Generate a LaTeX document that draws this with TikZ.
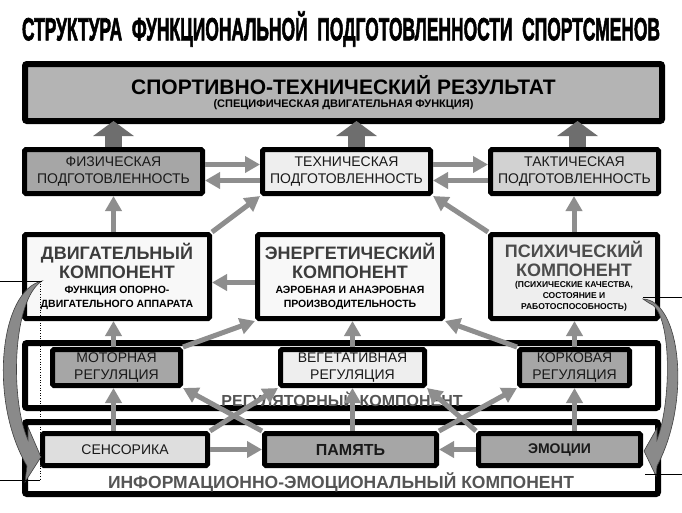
\documentclass[tikz,border=0pt]{standalone}
\usepackage{fontspec}
\setmainfont{Liberation Sans}
\newfontfamily\heavyfont[FakeBold=2.5]{Liberation Sans Bold}
\usepackage{graphicx}
\usetikzlibrary{arrows.meta,positioning}

\definecolor{resgray}{HTML}{B4B4B4}
\definecolor{darkfill}{HTML}{A6A6A6}
\definecolor{midfill}{HTML}{D2D2D2}
\definecolor{lightfill}{HTML}{EEEEEE}
\definecolor{palefill}{HTML}{F8F8F8}
\definecolor{sensfill}{HTML}{DEDEDE}
\definecolor{arrgray}{HTML}{8E8E8E}
\definecolor{bigarrgray}{HTML}{6E6E6E}
\definecolor{swooshgray}{HTML}{8A8A8A}
\definecolor{labelgray}{HTML}{555555}
\definecolor{compgray}{HTML}{3C3C3C}

\newcommand{\comptitle}{\fontsize{18}{19}\selectfont\bfseries\color{compgray}}
\newcommand{\compnote}{\fontsize{10.5}{14.5}\selectfont\bfseries\color{black}}
\newcommand{\psihnote}{\fontsize{8.5}{11}\selectfont\bfseries\color{black}}

\begin{document}
\begin{tikzpicture}[x=1pt,y=-1pt,
  box/.style={rectangle, draw=black, line width=5pt, rounded corners=1.5pt,
              fill=#1, align=center, inner sep=0pt, text=black!90,
              font=\fontsize{14}{17}\selectfont},
  box/.default=white,
  comp/.style={box=#1, minimum height=84pt, text width=180pt, align=flush center},
  panel/.style={rectangle, draw=black, line width=6pt, rounded corners=2pt,
                fill=#1, inner sep=0pt},
  panel/.default=white,
  lbl/.style={font=\fontsize{16}{18}\selectfont\bfseries, text=labelgray, inner sep=0pt},
  arr/.style={-{Triangle[length=15pt,width=16pt]}, line width=5pt, draw=arrgray},
  bigarr/.style={-{Triangle[length=15pt,width=40pt]}, line width=17pt,
                 draw=bigarrgray, shorten >=-3pt},
  swoosh/.style={fill=swooshgray, draw=black!75, line width=0.6pt},
  handle/.style={draw=black, line width=0.6pt}
]
  \useasboundingbox[fill=white] (0,0) rectangle (682,512);

  \node (title) at (341,29) {\resizebox{638pt}{29pt}{\heavyfont СТРУКТУРА\ \ ФУНКЦИОНАЛЬНОЙ\ \ ПОДГОТОВЛЕННОСТИ\ \ СПОРТСМЕНОВ}};

  % result
  \node[panel=resgray, minimum width=637pt, minimum height=57pt, align=center] (result) at (343.5,92.5)
    {\fontsize{21}{22}\selectfont\bfseries СПОРТИВНО-ТЕХНИЧЕСКИЙ РЕЗУЛЬТАТ\\[1pt]
     \fontsize{11}{12}\selectfont\bfseries (СПЕЦИФИЧЕСКАЯ ДВИГАТЕЛЬНАЯ ФУНКЦИЯ)};

  % preparedness
  \node[box=lightfill, minimum width=168pt, minimum height=44pt] (tex) at (346.5,171.5) {ТЕХНИЧЕСКАЯ\\ПОДГОТОВЛЕННОСТЬ};
  \node[box=darkfill, minimum width=178pt, minimum height=44pt, left=55pt of tex] (fiz) {ФИЗИЧЕСКАЯ\\ПОДГОТОВЛЕННОСТЬ};
  \node[box=midfill, minimum width=168pt, minimum height=44pt, right=55pt of tex] (takt) {ТАКТИЧЕСКАЯ\\ПОДГОТОВЛЕННОСТЬ};

  % components
  \node[comp=palefill, minimum width=185pt] (dvig) at (117,276.5)
    {{\comptitle ДВИГАТЕЛЬНЫЙ\\КОМПОНЕНТ\par}{\compnote ФУНКЦИЯ ОПОРНО-\\ДВИГАТЕЛЬНОГО АППАРАТА\par}};
  \node[comp=palefill, minimum width=185pt, right=43pt of dvig] (energ)
    {{\comptitle ЭНЕРГЕТИЧЕСКИЙ\\КОМПОНЕНТ\par}{\compnote АЭРОБНАЯ И АНАЭРОБНАЯ\\ПРОИЗВОДИТЕЛЬНОСТЬ\par}};
  \node[comp=lightfill, minimum width=167pt, text width=162pt, right=43pt of energ] (psih)
    {{\comptitle\color{black!70} ПСИХИЧЕСКИЙ\\КОМПОНЕНТ\par}{\psihnote (ПСИХИЧЕСКИЕ КАЧЕСТВА,\\СОСТОЯНИЕ И\\РАБОТОСПОСОБНОСТЬ)\par}};

  % regulation
  \node[panel, minimum width=633pt, minimum height=65pt] (reg) at (341.5,375.5) {};
  \node[box=darkfill, minimum width=128pt, minimum height=36pt] (motor) at (116.5,367.5) {МОТОРНАЯ\\РЕГУЛЯЦИЯ};
  \node[box=lightfill, minimum width=144pt, minimum height=36pt] (veg) at (352.5,367.5) {ВЕГЕТАТИВНАЯ\\РЕГУЛЯЦИЯ};
  \node[box=darkfill, minimum width=110pt, minimum height=36pt] (kork) at (574.5,367.5) {КОРКОВАЯ\\РЕГУЛЯЦИЯ};
  \node[lbl] (reglabel) at (342,399) {РЕГУЛЯТОРНЫЙ КОМПОНЕНТ};

  % information and emotion
  \node[panel, minimum width=633pt, minimum height=72pt] (info) at (341.5,458) {};
  \node[box=sensfill, minimum width=165pt, minimum height=32pt] (sens) at (125,449.5) {СЕНСОРИКА};
  \node[box=darkfill, minimum width=172pt, minimum height=32pt, font=\fontsize{16}{18}\selectfont\bfseries] (pam) at (350.5,449.5) {ПАМЯТЬ};
  \node[box=darkfill, minimum width=162pt, minimum height=32pt, font=\fontsize{14}{16}\selectfont\bfseries] (emo) at (559.5,449.5) {ЭМОЦИИ};
  \node[lbl, font=\fontsize{17.5}{19}\selectfont\bfseries] (infolabel) at (341,482) {ИНФОРМАЦИОННО-ЭМОЦИОНАЛЬНЫЙ КОМПОНЕНТ};

  % big arrows to the result
  \draw[bigarr] (fiz.north) -- (fiz.north |- result.south);
  \draw[bigarr] ([xshift=10pt]tex.north) -- ([xshift=10pt]tex.north |- result.south);
  \draw[bigarr] ([xshift=3pt]takt.north) -- ([xshift=3pt]takt.north |- result.south);

  % preparedness links
  \draw[arr] ([yshift=7pt]fiz.east) -- ([yshift=7pt]tex.west);
  \draw[arr] ([yshift=-9pt]tex.west) -- ([yshift=-9pt]fiz.east);
  \draw[arr] ([yshift=7pt]tex.east) -- ([yshift=7pt]takt.west);
  \draw[arr] ([yshift=-9pt]takt.west) -- ([yshift=-9pt]tex.east);

  % components up
  \draw[arr] (dvig.north -| fiz.south) -- (fiz.south);
  \draw[arr] (dvig.north east) -- (tex.south west);
  \draw[arr] (psih.north west) -- (tex.south east);
  \draw[arr] (psih.north) -- (psih.north |- takt.south);
  \draw[arr] ([yshift=-6pt]energ.west) -- ([yshift=-6pt]dvig.east);

  % regulation up
  \draw[arr] (motor.north -| fiz.south) -- (dvig.south -| fiz.south);
  \draw[arr] (motor.north east) -- (energ.south west);
  \draw[arr] (veg.north) -- (veg.north |- energ.south);
  \draw[arr] (kork.north west) -- (energ.south east);
  \draw[arr] (kork.north) -- (kork.north |- psih.south);

  % information up
  \draw[arr] (sens.north -| fiz.south) -- (motor.south -| fiz.south);
  \draw[arr] (sens.north east) -- (veg.south west);
  \draw[arr] (pam.north west) -- (motor.south east);
  \draw[arr] (pam.north -| veg.south) -- (veg.south);
  \draw[arr] (pam.north east) -- (kork.south west);
  \draw[arr] (emo.north west) -- (veg.south east);
  \draw[arr] (emo.north -| kork.south) -- (kork.south);
  \draw[arr] (sens) -- (pam);
  \draw[arr] (emo) -- (pam);

  % curved arrows
  \filldraw[swoosh] (42,281) .. controls (0,290) and (-12,400) .. (27,466) -- (25,482) -- (41,457)
    -- (28,427) -- (28,440) .. controls (10,400) and (12,300) .. (42,281) -- cycle;
  \filldraw[swoosh] (643,299) .. controls (680,300) and (692,400) .. (657,466) -- (656,476) -- (644,451)
    -- (657,428) -- (657,440) .. controls (672,400) and (672,310) .. (649,303) -- cycle;

  % handles
  \draw[handle] (0,281) -- (42,281);
  \draw[handle] (0,480) -- (40,480);
  \draw[handle, dotted] (40,281) -- (40,480);
  \draw[handle] (643,297) -- (682,297);
  \draw[handle] (645,474) -- (682,474);
\end{tikzpicture}
\end{document}
